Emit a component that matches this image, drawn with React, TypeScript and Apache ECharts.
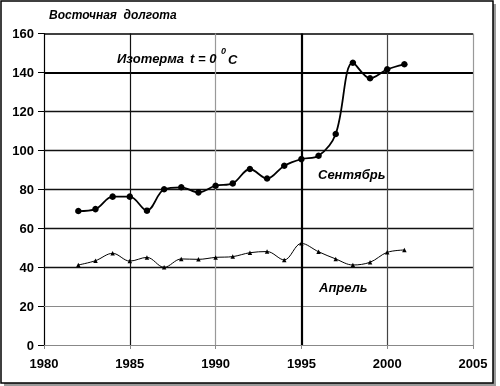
import React, { useEffect, useRef } from "react";
import * as echarts from "echarts";

const years = [1982, 1983, 1984, 1985, 1986, 1987, 1988, 1989, 1990, 1991, 1992, 1993, 1994, 1995, 1996, 1997, 1998, 1999, 2000, 2001];
const september = [68.8, 69.8, 76.2, 76.2, 69, 80, 81, 78.4, 81.8, 83, 90.4, 85.5, 92.1, 95.5, 97.2, 108.4, 145, 137, 141.6, 144.2];
const april = [41.1, 43.3, 47.1, 43.1, 45, 39.9, 44.2, 44, 45, 45.4, 47.4, 48, 43.7, 52.2, 47.9, 44.2, 41.1, 42.5, 47.6, 48.8];

const hLines = [20, 40, 60, 80, 100, 120, 140, 160];
const vLines = [1985, 1990, 1995, 2000, 2005];

const FONT = "'Liberation Sans', Arial, sans-serif";

const hStyle = (v: number) => {
  if (v === 140) return { color: "#000", width: 2.2 };
  if (v === 20) return { color: "#8a8a8a", width: 1.2 };
  if (v === 160) return { color: "#000", width: 1.5 };
  return { color: "#111", width: 1.3 };
};
const vStyle = (v: number) => {
  if (v === 1995) return { color: "#000", width: 2.2 };
  if (v === 1985) return { color: "#111", width: 1.2 };
  if (v === 2000) return { color: "#444", width: 1.2 };
  return { color: "#999", width: 1.2 };
};

export default function App() {
  const ref = useRef<HTMLDivElement>(null);
  useEffect(() => {
    if (!ref.current) return;
    const chart = echarts.init(ref.current, null, { renderer: "svg" });
    const markData: any[] = [
      ...hLines.map((v) => ({ yAxis: v, lineStyle: { ...hStyle(v), type: "solid" } })),
      ...vLines.map((v) => ({ xAxis: v, lineStyle: { ...vStyle(v), type: "solid" } })),
    ];
    const labelStyle = { fontFamily: FONT, fontWeight: "bold", fontStyle: "italic", fontSize: 12, fill: "#000" };
    chart.setOption({
      animation: false,
      backgroundColor: "transparent",
      grid: { left: 44, right: 27, top: 33.5, bottom: 41 },
      xAxis: {
        type: "value",
        min: 1980,
        max: 2005,
        interval: 5,
        axisLine: { show: true, lineStyle: { color: "#888", width: 1 } },
        axisTick: { show: true, length: 4, inside: false, lineStyle: { color: "#888" } },
        axisLabel: { margin: 12, color: "#000", fontFamily: FONT, fontWeight: "bold", fontSize: 13, formatter: (v: number) => String(v) },
        splitLine: { show: false },
      },
      yAxis: {
        type: "value",
        min: 0,
        max: 160,
        interval: 20,
        axisLine: { show: true, lineStyle: { color: "#000", width: 1.2 } },
        axisTick: { show: true, length: 6, lineStyle: { color: "#000" } },
        axisLabel: { margin: 10, color: "#000", fontFamily: FONT, fontWeight: "bold", fontSize: 13 },
        splitLine: { show: false },
      },
      graphic: [
        { type: "rect", z: -2, shape: { x: 4, y: 4, width: 492, height: 382 }, style: { fill: "#9a9a9a" } },
        { type: "rect", z: -1, shape: { x: 1, y: 1, width: 492, height: 382 }, style: { fill: "#fff", stroke: "#000", lineWidth: 1.5 } },
        { type: "text", z: 10, x: 49, y: 15, style: { ...labelStyle, text: "Восточная  долгота", verticalAlign: "middle" } },
        { type: "text", z: 10, x: 117, y: 58, style: { ...labelStyle, fontSize: 13, text: "Изотерма", verticalAlign: "middle" } },
        { type: "text", z: 10, x: 190, y: 58, style: { ...labelStyle, fontSize: 13, text: "t = 0", verticalAlign: "middle" } },
        { type: "text", z: 10, x: 221, y: 51, style: { ...labelStyle, fontSize: 9, text: "0", verticalAlign: "middle" } },
        { type: "text", z: 10, x: 228, y: 59, style: { ...labelStyle, fontSize: 13, text: "C", verticalAlign: "middle" } },
        { type: "text", z: 10, x: 318, y: 174, style: { ...labelStyle, fontSize: 13, text: "Сентябрь", verticalAlign: "middle" } },
        { type: "text", z: 10, x: 319, y: 287, style: { ...labelStyle, fontSize: 13, text: "Апрель", verticalAlign: "middle" } },
      ],
      series: [
        {
          type: "line",
          name: "grid",
          data: [],
          silent: true,
          markLine: { silent: true, symbol: "none", label: { show: false }, data: markData, animation: false },
        },
        {
          type: "line",
          name: "Сентябрь",
          data: years.map((y, i) => [y, september[i]]),
          smooth: 0.35,
          symbol: "circle",
          symbolSize: 6.5,
          itemStyle: { color: "#000" },
          lineStyle: { color: "#000", width: 1.8 },
          z: 5,
        },
        {
          type: "line",
          name: "Апрель",
          data: years.map((y, i) => [y, april[i]]),
          smooth: 0.35,
          symbol: "triangle",
          symbolSize: 4.5,
          itemStyle: { color: "#000" },
          lineStyle: { color: "#000", width: 1 },
          z: 5,
        },
      ],
    });
    return () => chart.dispose();
  }, []);
  return <div ref={ref} style={{ position: "fixed", left: 0, top: 0, width: 500, height: 386 }} />;
}
